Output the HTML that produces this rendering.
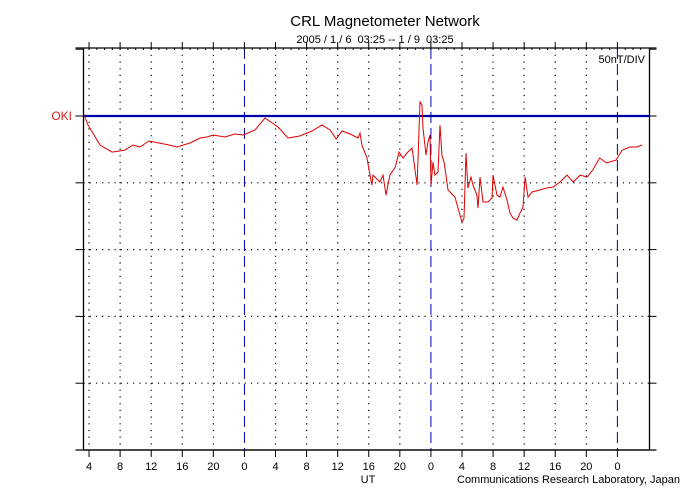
<!DOCTYPE html>
<html><head><meta charset="utf-8"><style>
body{margin:0;background:#fff;}
svg{display:block;font-family:"Liberation Sans",sans-serif;}
</style></head><body>
<svg id="chart" width="700" height="500">
<rect width="700" height="500" fill="#fff"/>
<text x="385" y="26" text-anchor="middle" font-size="15">CRL Magnetometer Network</text>
<text x="375" y="43" text-anchor="middle" font-size="11" xml:space="preserve">2005 / 1 / 6  03:25 -- 1 / 9  03:25</text>
<text x="645" y="63" text-anchor="end" font-size="11">50nT/DIV</text>
<text x="72" y="120" text-anchor="end" font-size="12" fill="#cc2222">OKI</text>
<text x="368" y="483" text-anchor="middle" font-size="11">UT</text>
<text x="457" y="483" font-size="11">Communications Research Laboratory, Japan</text>
<g id="grid"></g>
<g id="axes"></g>
<g id="series"></g>
</svg>
<script>
const startClock = 3 + 25/60;
const tickHours = [4,8,12,16,20,24,28,32,36,40,44,48,52,56,60,64,68,72];
const tickLabels = ["4","8","12","16","20","0","4","8","12","16","20","0","4","8","12","16","20","0"];
const levelTicks = [50,0,-50,-100,-150,-200,-250,-300];
const hours = [0,0.45,2.0,3.54,5.21,6.24,7.14,8.3,9.59,10.87,11.9,13.58,14.9,15.77,16.54,18.08,19.37,20.4,21.04,21.94,23.23,24.9,26.2,27.7,29.3,30.57,31.6,32.4,33.14,34.2,35.2,35.46,35.7,36.36,36.75,37.0,37.13,38.0,38.42,38.8,39.3,40.0,40.48,41.0,41.5,42.15,42.28,42.8,43.18,43.44,43.56,43.95,44.2,44.46,44.6,44.85,45.1,45.5,45.75,46.0,46.27,46.53,46.78,47.68,48.07,48.58,48.84,49.1,49.35,49.74,50.0,50.5,50.64,50.9,51.29,51.93,52.45,52.57,53.09,53.47,53.86,54.38,54.76,55.15,55.66,56.05,56.44,56.7,57.08,57.6,58.6,59.5,60.3,61.2,62.1,62.9,63.8,64.7,65.4,66.3,67.2,68.4,69.2,70.2,71.1,71.75];
const okiValues = [0,-6.7,-21.7,-27.0,-25.5,-21.7,-23.2,-18.7,-20.2,-21.7,-23.2,-20.2,-16.5,-15.7,-14.2,-15.7,-13.5,-14.2,-12.7,-10.5,-1.5,-8.2,-16.5,-15.0,-11.2,-6.7,-10.5,-17.2,-11.2,-13.5,-16.5,-12.7,-21.7,-31.5,-44.2,-51.7,-44.2,-49.4,-44.2,-59.2,-44.2,-38.2,-27.0,-31.5,-27.7,-24.0,-29.2,-51.7,10.5,8.2,-9.0,-29.2,-19.5,-14.2,-51.7,-34.5,-44.2,-41.9,-6.7,-29.2,-34.5,-44.2,-55.4,-60.7,-68.9,-79.4,-76.4,-27.7,-53.9,-45.7,-51.7,-59.2,-68.9,-45.7,-64.4,-64.4,-61.4,-44.2,-59.2,-60.7,-53.2,-62.9,-72.7,-76.4,-77.9,-72.7,-68.2,-45.7,-60.7,-56.9,-55.4,-53.9,-53.2,-49.4,-44.2,-49.4,-44.2,-45.7,-40.4,-31.5,-35.2,-33.0,-25.5,-23.2,-23.2,-21.7];

const L=83.5,R=649.5,T=48,B=450;
const xs = h => 84.5 + h*7.77;
const xc = c => xs(c - startClock);
const ys = v => 116 - v*66.8/50;
const NS="http://www.w3.org/2000/svg";
function mk(tag,attrs,parent){const e=document.createElementNS(NS,tag);for(const k in attrs)e.setAttribute(k,attrs[k]);parent.appendChild(e);return e;}
const grid=document.getElementById('grid'),axes=document.getElementById('axes'),series=document.getElementById('series');

levelTicks.forEach(v=>{
  const y=ys(v);
  if(y>T+2&&y<B-2&&v!==0){
    const g=mk('line',{x1:L,x2:R,y1:y,y2:y,stroke:'#000','stroke-width':1.2,'stroke-dasharray':'1.2 5'},grid);
    
    
  }
  if(y>=T&&y<=B){
    const t1=mk('line',{x1:L-8,x2:L,y1:y,y2:y,stroke:'#000'},axes);
    
    
    const t2=mk('line',{x1:R,x2:R+7,y1:y,y2:y,stroke:'#000'},axes);
    
    
  }
});
for(let c=4;c<76;c++){
  const x=xc(c);
  if(x<=L||x>=R) continue;
  const m=mk('line',{x1:x,x2:x,y1:T,y2:T+2,stroke:'#000'},axes);
  
  
}
tickHours.forEach((h,i)=>{
  const x=xc(h);
  const isDay=(h%24===0);
  const g=mk('line',{x1:x,x2:x,y1:T,y2:B,stroke:isDay?'#0000aa':'#000','stroke-width':isDay?1:1.2,'stroke-dasharray':isDay?'11 5':'1.2 5.5'},grid);
  
  
  const t1=mk('line',{x1:x,x2:x,y1:T-6,y2:T,stroke:'#000'},axes);
  
  
  const t2=mk('line',{x1:x,x2:x,y1:B,y2:B+7,stroke:'#000'},axes);
  
  
  const lb=mk('text',{x:x,y:470,'text-anchor':'middle','font-size':11},axes);
  lb.textContent=tickLabels[i];
  
  
});
const fr=mk('path',{d:`M${L},${T}V${B}H${R}V${T}`,fill:'none',stroke:'#000','stroke-width':1.3},axes);


const tl=mk('line',{x1:L-8,x2:R+7,y1:T,y2:T,stroke:'#000','stroke-width':1.3},axes);


const bl=mk('line',{x1:L-8,x2:R+7,y1:B,y2:B,stroke:'#000','stroke-width':1.3},axes);


const base=mk('line',{x1:L,x2:R,y1:ys(0),y2:ys(0),stroke:'#0000aa','stroke-width':2.2},series);


const pts=hours.map((h,i)=>xs(h).toFixed(1)+','+ys(okiValues[i]).toFixed(1)).join(' ');
const pl=mk('polyline',{points:pts,fill:'none',stroke:'#dd0000','stroke-width':1},series);


</script>
</body></html>
